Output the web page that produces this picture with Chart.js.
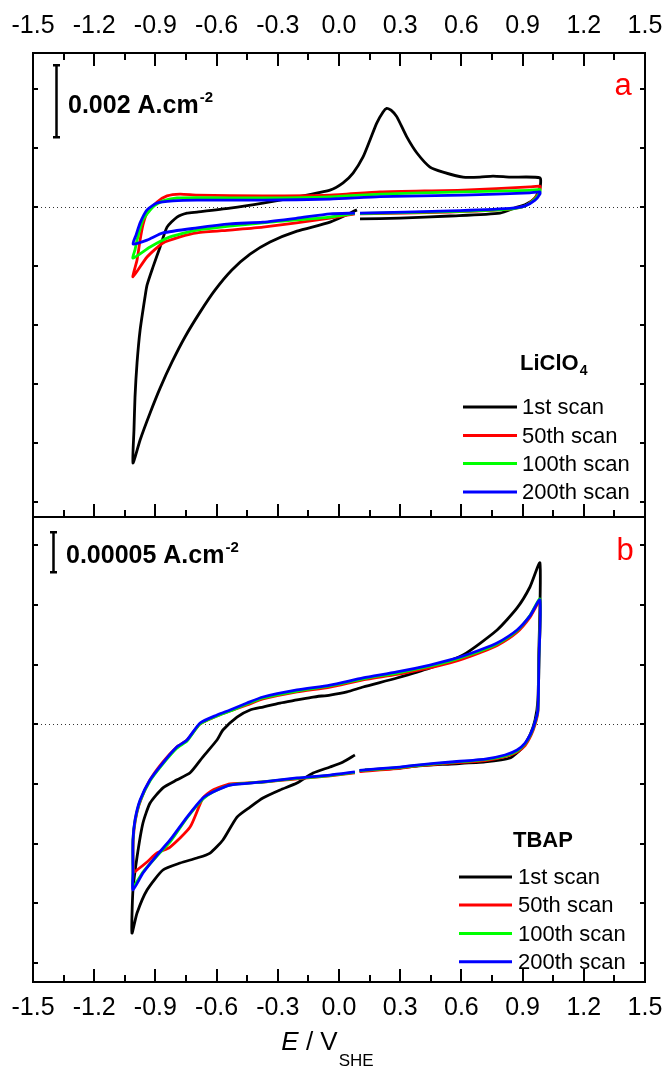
<!DOCTYPE html>
<html>
<head>
<meta charset="utf-8">
<title>Cyclic voltammograms</title>
<script src="https://cdn.jsdelivr.net/npm/chart.js@4.4.1/dist/chart.umd.min.js"></script>
<style>
  body { margin: 0; background: #fff; }
  #wrap { position: relative; width: 666px; height: 1068px; }
  #wrap canvas { position: absolute; left: 0; }
</style>
</head>
<body>
<div id="wrap">
  <canvas id="cvA" width="666" height="530" style="top:0"></canvas>
  <canvas id="cvB" width="666" height="558" style="top:510px"></canvas>
</div>
<script>
// scan names and colours (shared by both panels)
var scanLabels = ["1st scan", "50th scan", "100th scan", "200th scan"];
var scanColors = ["#000000", "#ff0000", "#00ff00", "#0000ff"];

// potential axis ticks, V vs SHE
var potentialMin = -1.5;
var potentialMax = 1.5;
var potentialStep = 0.3;

// (a) LiClO4 : E in V, j in mA cm-2
var liE1 = [0.088, -0.044, -0.206, -0.338, -0.436, -0.525, -0.608, -0.681, -0.755, -0.819, -0.877, -0.926, -0.975, -1.010, -1.005, -1.000, -0.990, -0.975, -0.951, -0.941, -0.912, -0.877, -0.843, -0.794, -0.745, -0.696, -0.534, -0.373, -0.206, -0.044, 0.020, 0.069, 0.118, 0.152, 0.185, 0.216, 0.234, 0.255, 0.283, 0.333, 0.382, 0.446, 0.510, 0.608, 0.691, 0.755, 0.838, 0.985, 0.985, 0.961, 0.912, 0.873, 0.789, 0.544, 0.299, 0.103];
var liJ1 = [-0.08, -0.42, -0.67, -0.97, -1.31, -1.75, -2.31, -2.92, -3.61, -4.31, -5.03, -5.72, -6.47, -7.11, -6.19, -5.28, -4.33, -3.42, -2.50, -2.17, -1.67, -1.11, -0.56, -0.28, -0.17, -0.14, -0.03, 0.11, 0.28, 0.47, 0.67, 0.94, 1.39, 1.86, 2.33, 2.64, 2.74, 2.69, 2.51, 1.94, 1.50, 1.11, 0.97, 0.83, 0.83, 0.86, 0.83, 0.81, 0.53, 0.25, 0.06, 0.00, -0.17, -0.25, -0.31, -0.33];

var liE50 = [0.078, -0.044, -0.373, -0.534, -0.696, -0.779, -0.863, -0.941, -1.010, -0.990, -0.975, -0.961, -0.941, -0.892, -0.843, -0.779, -0.696, -0.373, -0.044, 0.201, 0.608, 0.936, 0.985, 0.985, 0.961, 0.912, 0.838, 0.544, 0.103];
var liJ50 = [-0.19, -0.31, -0.56, -0.64, -0.72, -0.83, -1.00, -1.39, -1.94, -1.47, -0.92, -0.50, -0.17, 0.14, 0.31, 0.36, 0.33, 0.31, 0.33, 0.42, 0.47, 0.56, 0.58, 0.47, 0.25, 0.03, -0.06, -0.14, -0.19];

var liE100 = [0.078, -0.044, -0.373, -0.696, -0.828, -0.926, -1.010, -1.000, -0.990, -0.961, -0.912, -0.863, -0.794, -0.696, -0.373, -0.044, 0.201, 0.608, 0.936, 0.985, 0.985, 0.961, 0.912, 0.838, 0.544, 0.103];
var liJ100 = [-0.18, -0.28, -0.44, -0.64, -0.83, -1.11, -1.42, -1.19, -0.92, -0.36, 0.00, 0.17, 0.25, 0.26, 0.25, 0.28, 0.36, 0.42, 0.46, 0.49, 0.42, 0.22, 0.03, -0.06, -0.13, -0.18];

var liE200 = [0.078, -0.044, -0.206, -0.373, -0.534, -0.696, -0.863, -0.941, -1.010, -0.995, -0.975, -0.941, -0.892, -0.814, -0.696, -0.373, -0.044, 0.201, 0.608, 0.936, 0.985, 0.985, 0.961, 0.912, 0.838, 0.544, 0.103];
var liJ200 = [-0.17, -0.19, -0.31, -0.42, -0.47, -0.58, -0.72, -0.92, -1.03, -0.78, -0.44, -0.08, 0.11, 0.17, 0.19, 0.19, 0.22, 0.29, 0.33, 0.39, 0.42, 0.36, 0.19, 0.03, -0.04, -0.11, -0.17];

// (b) TBAP : E in V, j in uA cm-2
var tbE1 = [0.078, 0.020, -0.044, -0.127, -0.206, -0.289, -0.373, -0.436, -0.500, -0.569, -0.632, -0.696, -0.779, -0.863, -0.941, -0.990, -1.015, -1.010, -0.990, -0.961, -0.926, -0.863, -0.794, -0.730, -0.667, -0.598, -0.569, -0.500, -0.436, -0.373, -0.289, -0.206, -0.127, -0.044, 0.039, 0.118, 0.284, 0.446, 0.608, 0.775, 0.873, 0.936, 0.985, 0.980, 0.975, 0.961, 0.936, 0.897, 0.838, 0.716, 0.549, 0.382, 0.299, 0.127];
var tbJ1 = [-38.4, -47.1, -53.4, -60.9, -73.4, -82.1, -92.1, -103.4, -115.9, -144.6, -160.9, -167.1, -173.4, -182.1, -207.1, -235.9, -260.9, -207.1, -165.9, -123.4, -98.4, -79.4, -69.4, -60.6, -40.6, -19.6, -7.1, 9.1, 17.9, 21.6, 26.6, 30.4, 34.1, 36.6, 40.4, 46.6, 57.9, 70.4, 86.6, 117.9, 145.4, 171.6, 201.6, 92.9, 30.4, 5.4, -13.4, -29.6, -42.1, -47.1, -49.6, -52.1, -54.6, -57.1];

var tbE50 = [0.078, -0.044, -0.206, -0.373, -0.534, -0.618, -0.667, -0.730, -0.828, -0.892, -0.941, -0.990, -1.005, -1.010, -1.005, -0.990, -0.966, -0.926, -0.863, -0.794, -0.745, -0.681, -0.598, -0.534, -0.451, -0.373, -0.206, -0.044, 0.118, 0.284, 0.446, 0.544, 0.608, 0.691, 0.775, 0.873, 0.936, 0.985, 0.980, 0.975, 0.961, 0.941, 0.912, 0.873, 0.814, 0.716, 0.549, 0.382, 0.299, 0.100];
var tbJ50 = [-60.6, -64.4, -68.1, -72.1, -74.6, -82.1, -92.1, -128.4, -153.4, -160.9, -172.1, -182.1, -184.6, -157.1, -132.1, -109.6, -90.9, -69.4, -47.1, -28.1, -19.6, 0.4, 10.4, 16.6, 24.1, 31.6, 40.4, 46.6, 55.6, 62.4, 70.6, 76.6, 81.6, 89.4, 98.4, 115.1, 133.6, 154.1, 80.4, 15.4, -0.5, -14.0, -26.5, -34.6, -40.5, -45.4, -48.4, -52.1, -55.0, -59.0];

var tbE100 = [0.078, -0.044, -0.206, -0.373, -0.534, -0.618, -0.667, -0.745, -0.828, -0.892, -0.961, -1.010, -1.010, -1.010, -1.000, -0.975, -0.926, -0.863, -0.794, -0.745, -0.681, -0.598, -0.534, -0.451, -0.373, -0.206, -0.044, 0.118, 0.284, 0.446, 0.544, 0.608, 0.691, 0.775, 0.873, 0.936, 0.985, 0.980, 0.975, 0.961, 0.941, 0.912, 0.873, 0.814, 0.716, 0.549, 0.382, 0.299, 0.100];
var tbJ100 = [-60.1, -64.0, -67.7, -72.1, -75.9, -84.6, -93.4, -117.1, -147.1, -164.6, -184.6, -203.4, -184.6, -144.6, -120.9, -95.9, -70.6, -49.4, -29.6, -20.9, 0.4, 10.4, 16.6, 25.4, 32.9, 41.6, 47.9, 56.9, 64.1, 72.6, 78.9, 84.1, 91.4, 100.4, 117.1, 135.9, 156.6, 80.4, 18.0, 2.0, -12.0, -24.6, -33.4, -39.4, -44.1, -47.7, -51.5, -54.0, -58.0];

var tbE200 = [0.078, -0.044, -0.206, -0.373, -0.534, -0.618, -0.667, -0.745, -0.828, -0.892, -0.961, -1.010, -1.010, -1.010, -1.000, -0.975, -0.926, -0.863, -0.794, -0.745, -0.681, -0.598, -0.534, -0.451, -0.373, -0.206, -0.044, 0.118, 0.284, 0.446, 0.544, 0.608, 0.691, 0.775, 0.873, 0.936, 0.985, 0.980, 0.975, 0.961, 0.941, 0.912, 0.873, 0.814, 0.716, 0.549, 0.382, 0.299, 0.100];
var tbJ200 = [-59.4, -63.4, -67.1, -72.1, -75.9, -84.6, -92.1, -115.9, -144.6, -163.4, -185.9, -207.1, -185.9, -144.6, -119.6, -94.6, -69.4, -48.1, -28.1, -19.6, 1.6, 11.6, 17.9, 26.6, 34.1, 42.9, 49.1, 57.9, 65.4, 74.1, 80.4, 85.4, 92.9, 101.6, 117.9, 135.4, 155.4, 80.4, 18.0, 2.9, -11.0, -23.4, -32.1, -38.4, -43.4, -47.1, -50.9, -53.4, -57.5];

var FONT = "'Liberation Sans', Arial, Helvetica, sans-serif";

function toPoints(es, js) {
  return es.map(function (e, i) { return { x: e, y: js[i] }; });
}

function buildDatasets(eSets, jSets) {
  return eSets.map(function (es, k) {
    return {
      label: scanLabels[k],
      data: toPoints(es, jSets[k]),
      borderColor: scanColors[k],
      backgroundColor: scanColors[k],
      borderWidth: 2.8,
      pointRadius: 0,
      pointHoverRadius: 0,
      tension: 0.2,
      fill: false,
      order: eSets.length - k   // later scans drawn on top
    };
  });
}

// frame, inward ticks, zero line, scale bar and legend
var cvFrame = {
  id: "cvFrame",
  beforeDatasetsDraw: function (chart) {
    var a = chart.chartArea, ctx = chart.ctx;
    var y0 = Math.round(chart.scales.y.getPixelForValue(0)) + 0.5;
    ctx.save();
    ctx.strokeStyle = "#333";
    ctx.lineWidth = 1;
    ctx.setLineDash([1, 3]);
    ctx.beginPath();
    ctx.moveTo(a.left, y0);
    ctx.lineTo(a.right, y0);
    ctx.stroke();
    ctx.restore();
  },
  afterDraw: function (chart, args, opts) {
    var ctx = chart.ctx, a = chart.chartArea;
    var xs = chart.scales.x, ys = chart.scales.y;
    ctx.save();
    ctx.strokeStyle = "#000";
    ctx.fillStyle = "#000";
    ctx.lineWidth = 2;
    ctx.strokeRect(a.left, a.top, a.right - a.left, a.bottom - a.top);

    // x ticks: long on labelled values, short in between
    var xv = xs.ticks.map(function (t) { return t.value; });
    var marks = [];
    for (var i = 0; i < xv.length; i++) {
      marks.push([xv[i], 13]);
      if (i < xv.length - 1) marks.push([(xv[i] + xv[i + 1]) / 2, 7]);
    }
    ctx.beginPath();
    marks.forEach(function (m) {
      var px = Math.round(xs.getPixelForValue(m[0]));
      if (px <= a.left + 1 || px >= a.right - 1) return;
      ctx.moveTo(px, a.bottom);
      ctx.lineTo(px, a.bottom - m[1]);
      if (opts.topTicks) {
        ctx.moveTo(px, a.top);
        ctx.lineTo(px, a.top + m[1]);
      }
    });
    // y ticks, short, both sides
    ys.ticks.forEach(function (t) {
      var py = Math.round(ys.getPixelForValue(t.value));
      if (py <= a.top + 2 || py >= a.bottom - 2) return;
      ctx.moveTo(a.left, py);
      ctx.lineTo(a.left + 5, py);
      ctx.moveTo(a.right, py);
      ctx.lineTo(a.right - 5, py);
    });
    ctx.stroke();

    // current scale bar
    var bar = opts.bar;
    var bx = Math.round(xs.getPixelForValue(bar.x)) + 0.5;
    var b1 = ys.getPixelForValue(bar.from);
    var b2 = ys.getPixelForValue(bar.from - bar.span);
    ctx.lineWidth = 2.5;
    ctx.beginPath();
    ctx.moveTo(bx, b1); ctx.lineTo(bx, b2);
    ctx.moveTo(bx - 3.5, b1); ctx.lineTo(bx + 3.5, b1);
    ctx.moveTo(bx - 3.5, b2); ctx.lineTo(bx + 3.5, b2);
    ctx.stroke();
    var barText = String(bar.span / bar.perAmp) + " A.cm";
    ctx.textAlign = "left";
    ctx.textBaseline = "alphabetic";
    ctx.font = "bold 25px " + FONT;
    var tx = a.left + bar.textDx, ty = a.top + bar.textDy;
    ctx.fillText(barText, tx, ty);
    var w = ctx.measureText(barText).width;
    ctx.font = "bold 15px " + FONT;
    ctx.fillText("-2", tx + w + 1, ty - 11);

    // panel letter
    ctx.fillStyle = "#ff0000";
    ctx.font = "31px " + FONT;
    ctx.textAlign = "center";
    ctx.fillText(opts.letter.text, a.right + opts.letter.dx, a.top + opts.letter.dy);

    // legend title (electrolyte)
    var lg = opts.legend;
    ctx.fillStyle = "#000";
    ctx.textAlign = "left";
    ctx.font = "bold 22px " + FONT;
    var hx = a.right + lg.titleDx, hy = a.bottom + lg.titleDy;
    ctx.fillText(lg.title, hx, hy);
    if (lg.titleSub) {
      var hw = ctx.measureText(lg.title).width;
      ctx.font = "bold 14px " + FONT;
      ctx.fillText(lg.titleSub, hx + hw + 1, hy + 5);
    }

    // legend entries
    ctx.font = "22px " + FONT;
    ctx.textBaseline = "middle";
    chart.data.datasets.forEach(function (ds, k) {
      var ry = a.bottom + lg.rows[k];
      ctx.strokeStyle = ds.borderColor;
      ctx.lineWidth = 3;
      ctx.beginPath();
      ctx.moveTo(a.right + lg.lineFrom, ry);
      ctx.lineTo(a.right + lg.lineTo, ry);
      ctx.stroke();
      ctx.fillStyle = "#000";
      ctx.fillText(ds.label, a.right + lg.textDx, ry + 1);
    });

    // axis title with italic E and subscript
    if (opts.axisTitle) {
      ctx.textBaseline = "alphabetic";
      var p1 = "E", p2 = " / V", p3 = "SHE";
      ctx.font = "italic 26px " + FONT;
      var w1 = ctx.measureText(p1).width;
      ctx.font = "26px " + FONT;
      var w2 = ctx.measureText(p2).width;
      ctx.font = "17px " + FONT;
      var w3 = ctx.measureText(p3).width;
      var sx = a.left + 294 - (w1 + w2 + w3) / 2;
      var by = a.bottom + 68;
      ctx.font = "italic 26px " + FONT;
      ctx.fillText(p1, sx, by);
      ctx.font = "26px " + FONT;
      ctx.fillText(p2, sx + w1, by);
      ctx.font = "17px " + FONT;
      ctx.fillText(p3, sx + w1 + w2 + 1, by + 16);
    }
    ctx.restore();
  }
};

function potentialAxis(position, height, pad) {
  return {
    type: "linear",
    position: position,
    min: potentialMin,
    max: potentialMax,
    ticks: {
      stepSize: potentialStep,
      autoSkip: false,
      maxRotation: 0,
      minRotation: 0,
      padding: pad,
      color: "#000",
      font: { family: FONT, size: 25 },
      callback: function (v) { return Number(v).toFixed(1); }
    },
    grid: { display: false, drawTicks: false },
    border: { display: false },
    afterFit: function (s) {
      s.height = height;
      // end labels may overhang; the layout padding already leaves room
      s.paddingLeft = 0;
      s.paddingRight = 0;
    }
  };
}

function currentAxis(min, max, step) {
  return {
    type: "linear",
    min: min,
    max: max,
    ticks: { stepSize: step, display: false },
    grid: { display: false, drawTicks: false },
    border: { display: false },
    afterFit: function (s) { s.width = 0; }
  };
}

// (a) LiClO4
new Chart("cvA", {
  type: "line",
  data: { datasets: buildDatasets([liE1, liE50, liE100, liE200], [liJ1, liJ50, liJ100, liJ200]) },
  options: {
    responsive: false,
    animation: false,
    layout: { padding: { left: 33, right: 21, top: 0, bottom: 13 } },
    scales: {
      x: potentialAxis("top", 53, 12),
      y: currentAxis(-8.611, 4.278, 1.639)
    },
    plugins: {
      legend: { display: false },
      tooltip: { enabled: false },
      cvFrame: {
        topTicks: true,
        bar: { x: -1.387, from: 3.94, span: 2, perAmp: 1000, textDx: 35, textDy: 60 },
        letter: { text: "a", dx: -22, dy: 42 },
        legend: {
          title: "LiClO", titleSub: "4", titleDx: -125, titleDy: -147,
          rows: [-110, -81.5, -53.4, -25], lineFrom: -182, lineTo: -128, textDx: -123
        }
      }
    }
  },
  plugins: [cvFrame]
});

// (b) TBAP
new Chart("cvB", {
  type: "line",
  data: { datasets: buildDatasets([tbE1, tbE50, tbE100, tbE200], [tbJ1, tbJ50, tbJ100, tbJ200]) },
  options: {
    responsive: false,
    animation: false,
    layout: { padding: { left: 33, right: 21, top: 7, bottom: 0 } },
    scales: {
      x: potentialAxis("bottom", 86, 11),
      y: currentAxis(-322.1, 259.1, 74.5)
    },
    plugins: {
      legend: { display: false },
      tooltip: { enabled: false },
      cvFrame: {
        topTicks: false,
        axisTitle: true,
        bar: { x: -1.403, from: 240, span: 50, perAmp: 1000000, textDx: 33, textDy: 46 },
        letter: { text: "b", dx: -20, dy: 43 },
        legend: {
          title: "TBAP", titleSub: "", titleDx: -132, titleDy: -135.4,
          rows: [-105, -77, -48.4, -20.3], lineFrom: -186, lineTo: -133, textDx: -127
        }
      }
    }
  },
  plugins: [cvFrame]
});
</script>
</body>
</html>
